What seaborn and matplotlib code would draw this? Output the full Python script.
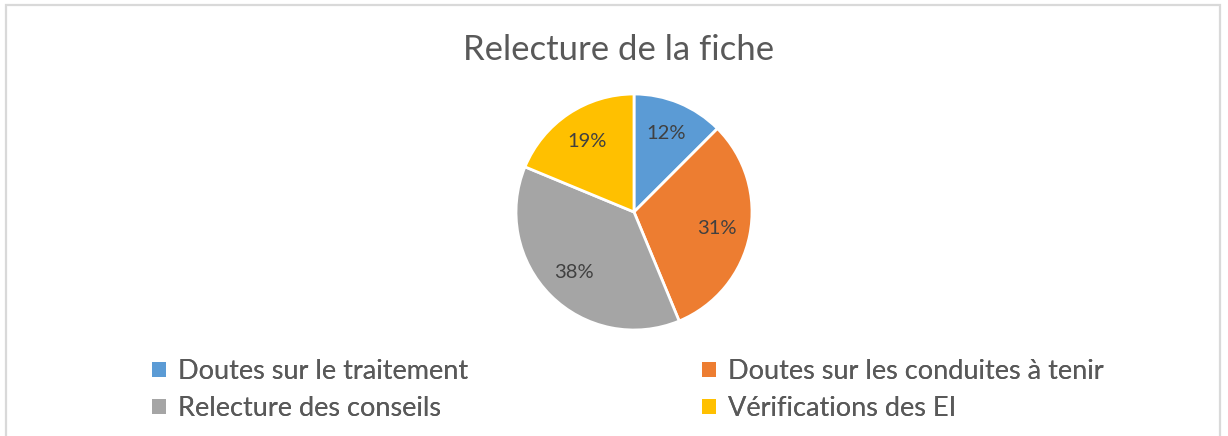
import numpy as np
import pandas as pd
import matplotlib.pyplot as plt
import seaborn as sns
from matplotlib.patches import Rectangle

# donnees
categories = ['Doutes sur le traitement', 'Doutes sur les conduites à tenir',
              'Relecture des conseils', 'Vérifications des EI']
counts = [2, 5, 6, 3]
colors = ['#5B9BD5', '#ED7D31', '#A5A5A5', '#FFC000']

sns.set_theme(style='white')
plt.rcParams['font.family'] = ['Lato', 'DejaVu Sans']

df = pd.DataFrame({'cat': categories, 'n': counts})
pal = sns.color_palette(colors)

W, H = 1228, 436
fig = plt.figure(figsize=(W / 100, H / 100), dpi=100)

# cadre
fig.patches.append(Rectangle((6 / W, -0.1), (1220 - 6) / W, 1.1 - 5 / H,
                             transform=fig.transFigure, fill=False,
                             edgecolor='#d9d9d9', linewidth=1.6))

cx, cy, r = 634, 212, 118
ax = fig.add_axes([(cx - r) / W, (H - cy - r) / H, 2 * r / W, 2 * r / H])
wedges, texts, autotexts = ax.pie(df['n'], colors=pal, startangle=90, counterclock=False,
                                  autopct=lambda p: f'{p:.0f}%', pctdistance=0.72,
                                  wedgeprops=dict(edgecolor='white', linewidth=2),
                                  textprops=dict(color='#404040', fontsize=14.5))
ax.set_xlim(-1, 1)
ax.set_ylim(-1, 1)
ax.set_aspect('auto')
ax.axis('off')

fig.text(619 / W, 1 - 50 / H, 'Relecture de la fiche', ha='center', va='center',
         fontsize=25, color='#595959')

# legende en deux colonnes
for i, xl in enumerate([152, 702]):
    leg = fig.legend([wedges[i], wedges[i + 2]], [categories[i], categories[i + 2]],
                     loc='upper left', bbox_to_anchor=(xl / W, 1 - 359 / H),
                     frameon=False, fontsize=19.5, handlelength=0.5, handleheight=0.5,
                     handletextpad=0.45, labelspacing=0.45, borderpad=0, borderaxespad=0,
                     labelcolor='#595959')
    for h in leg.legend_handles:
        h.set_edgecolor('none')
    fig.add_artist(leg)

fig.savefig('out.png', dpi=100)
